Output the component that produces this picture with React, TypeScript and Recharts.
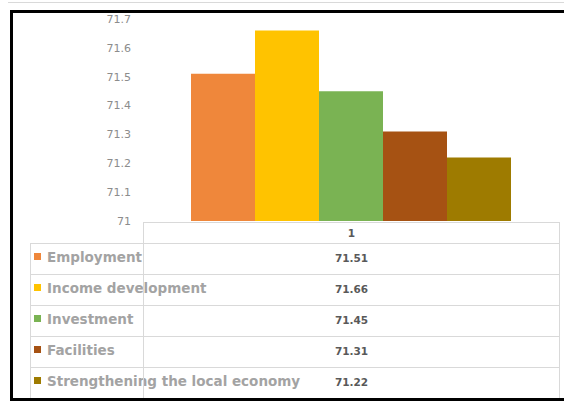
import React from "react";
import { BarChart, Bar, XAxis, YAxis } from "recharts";

const categories = ["1"];
const seriesNames = [
  "Employment",
  "Income development",
  "Investment",
  "Facilities",
  "Strengthening the local economy",
];
const seriesValues = [71.51, 71.66, 71.45, 71.31, 71.22];
const seriesColors = ["#EF873B", "#FFC300", "#7AB353", "#A65213", "#9E7B00"];
const yTicks = [71, 71.1, 71.2, 71.3, 71.4, 71.5, 71.6, 71.7];

const data = categories.map((c) => {
  const row: Record<string, string | number> = { category: c };
  seriesNames.forEach((n, i) => {
    row[n] = seriesValues[i];
  });
  return row;
});

const GRID = "#d9d9d9";
const FONT = "'DejaVu Sans', Verdana, sans-serif";

const HEADER_TOP = 222;
const HEADER_H = 21;
const ROW_H = 31;
const TABLE_LEFT = 30;
const COL_LEFT = 143;
const TABLE_RIGHT = 560;

function DataTable() {
  const rowsTop = HEADER_TOP + HEADER_H;
  const lines: React.ReactNode[] = [];
  // header box
  lines.push(
    <div
      key="hdr"
      style={{
        position: "absolute",
        left: COL_LEFT,
        top: HEADER_TOP,
        width: TABLE_RIGHT - COL_LEFT,
        height: HEADER_H,
        borderTop: `1px solid ${GRID}`,
        borderLeft: `1px solid ${GRID}`,
        borderRight: `1px solid ${GRID}`,
        boxSizing: "border-box",
        display: "flex",
        alignItems: "center",
        justifyContent: "center",
        fontFamily: FONT,
        fontSize: 10.5,
        fontWeight: "bold",
        color: "#595959",
      }}
    >
      {categories[0]}
    </div>
  );
  seriesNames.forEach((name, i) => {
    const top = rowsTop + i * ROW_H;
    lines.push(
      <div
        key={"r" + i}
        style={{
          position: "absolute",
          left: TABLE_LEFT,
          top,
          width: TABLE_RIGHT - TABLE_LEFT,
          height: ROW_H + 1,
          border: `1px solid ${GRID}`,
          boxSizing: "border-box",
        }}
      />
    );
    lines.push(
      <div
        key={"l" + i}
        style={{
          position: "absolute",
          left: TABLE_LEFT + 4,
          top: top + 10,
          width: 7,
          height: 7,
          background: seriesColors[i],
        }}
      />
    );
    lines.push(
      <div
        key={"t" + i}
        style={{
          position: "absolute",
          left: TABLE_LEFT + 17,
          top: top + 5,
          whiteSpace: "nowrap",
          fontFamily: FONT,
          fontSize: 13.5,
          fontWeight: "bold",
          color: "#a3a3a3",
          lineHeight: "18px",
        }}
      >
        {name}
      </div>
    );
    lines.push(
      <div
        key={"v" + i}
        style={{
          position: "absolute",
          left: COL_LEFT,
          width: TABLE_RIGHT - COL_LEFT,
          top: top + 7,
          textAlign: "center",
          fontFamily: FONT,
          fontSize: 10.5,
          fontWeight: "bold",
          color: "#595959",
          lineHeight: "16px",
        }}
      >
        {seriesValues[i].toFixed(2)}
      </div>
    );
  });
  // inner vertical line through rows
  lines.push(
    <div
      key="vline"
      style={{
        position: "absolute",
        left: COL_LEFT,
        top: rowsTop,
        width: 1,
        height: ROW_H * seriesNames.length,
        background: GRID,
      }}
    />
  );
  return <>{lines}</>;
}

export default function App() {
  return (
    <div
      style={{
        position: "absolute",
        left: 0,
        top: 0,
        width: 564,
        height: 401,
        overflow: "hidden",
        background: "#fff",
      }}
    >
      <div style={{ position: "absolute", left: 8, top: 2, width: 556, height: 1, background: GRID }} />
      <div style={{ position: "absolute", left: 0, top: 0 }}>
        <BarChart
          width={564}
          height={401}
          data={data}
          margin={{ top: 19, right: 4, bottom: 180, left: 0 }}
          barCategoryGap={48}
          barGap={0}
        >
          <XAxis dataKey="category" hide />
          <YAxis
            width={143}
            domain={[71, 71.7]}
            ticks={yTicks}
            axisLine={false}
            tickLine={false}
            tickSize={0}
            tickMargin={12}
            tick={{ fontSize: 11, fill: "#8c8c8c", fontFamily: FONT }}
            tickFormatter={(v) => String(v)}
          />
          {seriesNames.map((n, i) => (
            <Bar key={n} dataKey={n} fill={seriesColors[i]} isAnimationActive={false} />
          ))}
        </BarChart>
      </div>
      <DataTable />
      {/* black frame: top, left and bottom edges only */}
      <div style={{ position: "absolute", left: 10, top: 10, width: 554, height: 3, background: "#000" }} />
      <div style={{ position: "absolute", left: 10, top: 10, width: 3, height: 391, background: "#000" }} />
      <div style={{ position: "absolute", left: 10, top: 398, width: 554, height: 3, background: "#000" }} />
    </div>
  );
}
